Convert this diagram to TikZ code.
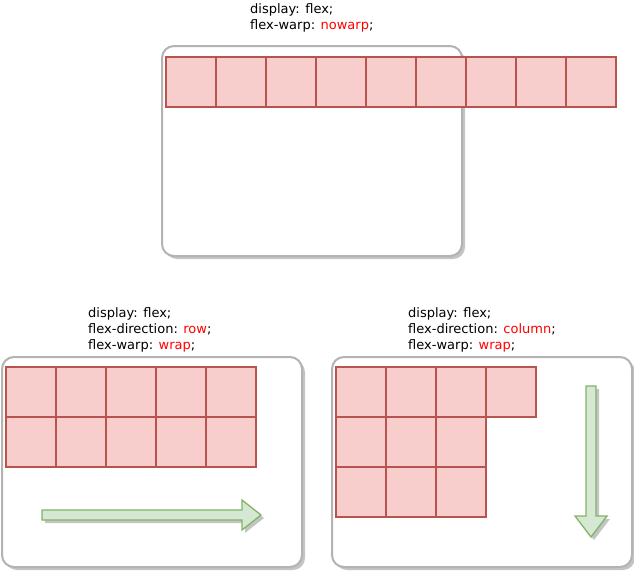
\documentclass[tikz,border=0pt]{standalone}
\usepackage{fontspec}
\setmainfont{DejaVu Sans}
\definecolor{cellfill}{HTML}{F8CECC}
\definecolor{cellline}{HTML}{B85450}
\definecolor{boxline}{HTML}{B3B3B3}
\definecolor{shadowc}{HTML}{C4C4C4}
\definecolor{arrfill}{HTML}{D5E8D4}
\definecolor{arrline}{HTML}{82B366}
\definecolor{kw}{HTML}{FF0000}
\begin{document}
\begin{tikzpicture}[x=1pt,y=-1pt,
  cell/.style={draw=cellline, fill=cellfill, line width=2pt, minimum size=50pt, inner sep=0pt, anchor=north west},
  box/.style={draw=boxline, line width=2pt, rounded corners=12pt, fill=white},
  boxshadow/.style={fill=shadowc, rounded corners=12pt},
  arr/.style={draw=arrline, fill=arrfill, line width=1.3pt, line join=miter},
  arrshadow/.style={fill=shadowc},
  txt/.style={anchor=base west, inner sep=0pt, font=\fontsize{13}{15}\selectfont}]
\useasboundingbox (0,0) rectangle (634,570);
% ---------- top example ----------
\fill[boxshadow] (165,49) rectangle (465,259);
\draw[box] (162,46) rectangle (462,256);
\foreach \i in {0,...,8} {
  \node[cell] (a\i) at (165+50*\i,56) {};
}
\node[txt] (t1a) at (250,13) {display: flex;};
\node[txt] (t1b) at (250,29) {flex-warp: \textcolor{kw}{nowarp};};
% ---------- bottom left ----------
\fill[boxshadow] (5,360) rectangle (305,570);
\draw[box] (2,357) rectangle (302,567);
\foreach \i in {0,...,4} {
  \node[cell] (b\i) at (5+50*\i,366) {};
  \node[cell] (c\i) at (5+50*\i,416) {};
}
\node[txt] (t2a) at (88,317) {display: flex;};
\node[txt] (t2b) at (88,333) {flex-direction: \textcolor{kw}{row};};
\node[txt] (t2c) at (88,349) {flex-warp: \textcolor{kw}{wrap};};
\fill[arrshadow] (45,513) -- (245,513) -- (245,503) -- (264,518) -- (245,533) -- (245,523) -- (45,523) -- cycle;
\draw[arr] (42,510) -- (242,510) -- (242,500) -- (261,515) -- (242,530) -- (242,520) -- (42,520) -- cycle;
% ---------- bottom right ----------
\fill[boxshadow] (335,360) rectangle (635,570);
\draw[box] (332,357) rectangle (632,567);
\foreach \c/\r in {0/0,0/1,0/2,1/0,1/1,1/2,2/0,2/1,2/2,3/0} {
  \node[cell] (d\c\r) at (335+50*\c,366+50*\r) {};
}
\node[txt] (t3a) at (408,317) {display: flex;};
\node[txt] (t3b) at (408,333) {flex-direction: \textcolor{kw}{column};};
\node[txt] (t3c) at (408,349) {flex-warp: \textcolor{kw}{wrap};};
\fill[arrshadow] (589,389) -- (599,389) -- (599,519) -- (610,519) -- (594,540) -- (578,519) -- (589,519) -- cycle;
\draw[arr] (586,386) -- (596,386) -- (596,516) -- (607,516) -- (591,537) -- (575,516) -- (586,516) -- cycle;
\end{tikzpicture}
\end{document}
